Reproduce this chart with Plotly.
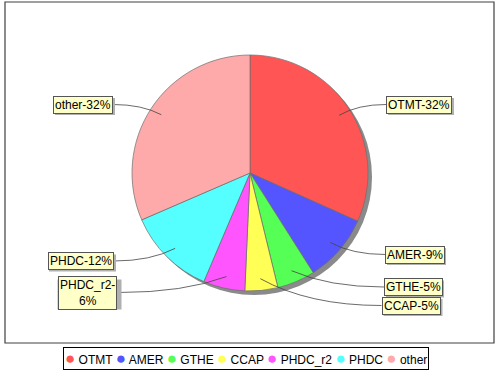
import math
import plotly.graph_objects as go

# ---- data ----
categories = ["OTMT", "AMER", "GTHE", "CCAP", "PHDC_r2", "PHDC", "other"]
values = [31.7, 9.3, 5.2, 4.5, 5.7, 12.1, 31.5]
pct_labels = ["32%", "9%", "5%", "5%", "6%", "12%", "32%"]
colors = ["#FF5555", "#5555FF", "#55FF55", "#FFFF55", "#FF55FF", "#55FFFF", "#FFAAAA"]

# ---- layout helpers (pixels) ----
W, H = 500, 370
cx, cy, R = 250, 173, 118
shadow_off = 4

def px(x):
    return x / W

def py(y):
    return 1 - y / H

# label box centers (pixels) and which side the leader line attaches
label_pos = {
    "OTMT": (419, 104.5, "left"),
    "AMER": (414.5, 254.5, "left"),
    "GTHE": (413, 287, "left"),
    "CCAP": (411, 305.5, "left"),
    "PHDC_r2": (87.5, 292.5, "right"),
    "PHDC": (80.5, 261, "right"),
    "other": (83, 104.5, "right"),
}
label_half_w = {
    "OTMT": 33, "AMER": 29.5, "GTHE": 29, "CCAP": 29.5,
    "PHDC_r2": 32, "PHDC": 33.5, "other": 30,
}
label_half_h = {
    "OTMT": 8.5, "AMER": 8.5, "GTHE": 8.5, "CCAP": 8.5,
    "PHDC_r2": 15, "PHDC": 8.5, "other": 8.5,
}

fig = go.Figure()

# shadow pie
fig.add_trace(go.Pie(
    values=[1], labels=["shadow"], marker=dict(colors=["#8a8a8a"]),
    textinfo="none", hoverinfo="skip", showlegend=False, sort=False,
    domain=dict(x=[px(cx - R + shadow_off), px(cx + R + shadow_off)],
                y=[py(cy + R + shadow_off), py(cy - R + shadow_off)]),
))

fig.add_trace(go.Pie(
    values=values, labels=categories, sort=False, direction="clockwise",
    rotation=0, textinfo="none", showlegend=False,
    marker=dict(colors=colors, line=dict(color="rgba(110,110,110,0.7)", width=1)),
    domain=dict(x=[px(cx - R), px(cx + R)], y=[py(cy + R), py(cy - R)]),
))

shapes = []
annotations = []

# outer frame
shapes.append(dict(type="rect", xref="paper", yref="paper",
                   x0=px(5), x1=px(494), y0=py(343), y1=py(2),
                   line=dict(color="#404040", width=1.2)))

total = sum(values)
cum = 0.0
for cat, v, pl in zip(categories, values, pct_labels):
    theta = math.radians(360 * (cum + v / 2) / total)
    cum += v
    sx = cx + 0.9 * R * math.sin(theta)
    sy = cy - 0.9 * R * math.cos(theta)
    lx, ly, side = label_pos[cat]
    hw = label_half_w[cat]
    hh = label_half_h[cat]
    ex = lx - hw if side == "left" else lx + hw
    ey = ly
    ctrlx = sx + 0.4 * (ex - sx)
    ctrly = ey
    path = "M {:.4f},{:.4f} Q {:.4f},{:.4f} {:.4f},{:.4f}".format(
        px(sx), py(sy), px(ctrlx), py(ctrly), px(ex), py(ey))
    shapes.append(dict(type="path", xref="paper", yref="paper", path=path,
                       line=dict(color="#444444", width=0.8)))
    # box shadow
    shapes.append(dict(type="rect", xref="paper", yref="paper",
                       x0=px(lx - hw + 2), x1=px(lx + hw + 2),
                       y0=py(ly + hh + 2), y1=py(ly - hh + 2),
                       fillcolor="#b0b0b0", line=dict(width=0), layer="above"))
    txt = f"{cat}-{pl}"
    if cat == "PHDC_r2":
        txt = f"{cat}-<br>{pl}"
    annotations.append(dict(
        x=px(lx), y=py(ly), xref="paper", yref="paper", text=txt,
        showarrow=False, xanchor="center", yanchor="middle",
        font=dict(family="Liberation Sans, Arial", size=12, color="#000000"),
        bgcolor="#FFFFC8", bordercolor="#555555", borderwidth=1, borderpad=1,
    ))

# legend as one boxed annotation
legend_parts = []
for cat, col in zip(categories, colors):
    legend_parts.append(
        f"<span style='color:{col};font-size:17px'>●</span> {cat}")
legend_text = " ".join(legend_parts)
annotations.append(dict(
    x=px(246), y=py(358), xref="paper", yref="paper", text=legend_text,
    showarrow=False, xanchor="center", yanchor="middle",
    font=dict(family="Liberation Sans, Arial", size=12, color="#000000"),
    bgcolor="#FFFFFF", bordercolor="#000000", borderwidth=1, borderpad=1,
))

fig.update_layout(
    width=W, height=H, margin=dict(l=0, r=0, t=0, b=0),
    paper_bgcolor="white", plot_bgcolor="white",
    shapes=shapes, annotations=annotations, showlegend=False,
)

fig.write_html("out.html")
